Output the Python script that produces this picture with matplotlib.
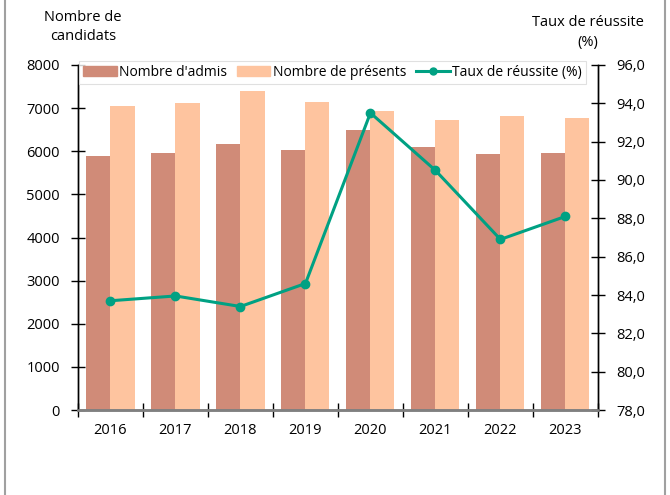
import numpy as np
import matplotlib
matplotlib.use("Agg")
import matplotlib.pyplot as plt
from matplotlib.lines import Line2D
from matplotlib.patches import Patch
from matplotlib.ticker import FuncFormatter

plt.rcParams['font.family'] = ['Open Sans', 'DejaVu Sans']

# Data
years = ["2016", "2017", "2018", "2019", "2020", "2021", "2022", "2023"]
admis = [5890, 5960, 6170, 6030, 6490, 6100, 5940, 5960]
presents = [7050, 7120, 7400, 7140, 6930, 6725, 6820, 6770]
taux = [83.7, 83.95, 83.4, 84.6, 93.5, 90.5, 86.9, 88.1]

col_admis = "#D08B78"
col_presents = "#FEC49F"
col_taux = "#00A183"

fig = plt.figure(figsize=(6.7, 4.95), dpi=100)
ax = fig.add_axes([0.1164, 0.1717, 0.776, 0.697])
ax2 = ax.twinx()

x = np.arange(len(years))
w = 0.37
ax.bar(x - w / 2, admis, width=w, color=col_admis, label="Nombre d'admis")
ax.bar(x + w / 2, presents, width=w, color=col_presents, label="Nombre de présents")
ax2.plot(x, taux, color=col_taux, lw=2.2, marker="o", ms=6, label="Taux de réussite (%)")

ax.set_xlim(-0.5, len(years) - 0.5)
ax.set_ylim(0, 8000)
ax.set_yticks(np.arange(0, 8001, 1000))
ax2.set_ylim(78, 96)
ax2.set_yticks(np.arange(78, 96.1, 2))
ax2.yaxis.set_major_formatter(FuncFormatter(lambda v, p: f"{v:.1f}".replace(".", ",")))

# tick marks at category boundaries, labels at centers
ax.set_xticks(np.arange(-0.5, len(years)), labels=[""] * (len(years) + 1))
ax.set_xticks(x, labels=years, minor=True)
ax.tick_params(axis="x", which="major", direction="inout", length=10, width=1, color="black")
ax.tick_params(axis="x", which="minor", length=0, pad=9, labelsize=10.5)
ax.tick_params(axis="y", direction="inout", length=10, width=1, labelsize=10.5, pad=8)
ax2.tick_params(axis="y", direction="inout", length=10, width=1, labelsize=10.5, pad=8)

for a in (ax, ax2):
    a.spines["top"].set_visible(False)
    a.spines["bottom"].set_color("#808080")
    a.spines["bottom"].set_linewidth(1.8)
    a.spines["left"].set_linewidth(1)
    a.spines["right"].set_linewidth(1)

fig.text(0.124, 0.945, "Nombre de\ncandidats", ha="center", va="center", fontsize=10.5, linespacing=1.35)
fig.text(0.878, 0.934, "Taux de réussite\n(%)", ha="center", va="center", fontsize=10.5, linespacing=1.4)

handles = [
    Patch(color=col_admis, label="Nombre d'admis"),
    Patch(color=col_presents, label="Nombre de présents"),
    Line2D([], [], color=col_taux, lw=2.2, marker="o", ms=5, label="Taux de réussite (%)"),
]
leg = ax2.legend(handles=handles, loc="upper center", bbox_to_anchor=(0.49, 1.012), ncol=3,
                 fontsize=10, frameon=True, fancybox=False, handlelength=2.4, handletextpad=0.2,
                 columnspacing=0.7, borderpad=0.3, borderaxespad=0)
leg.get_frame().set_edgecolor("#D9D9D9")
leg.get_frame().set_linewidth(0.8)

# grey frame lines at left and right of the figure
fig.add_artist(Line2D([0.008, 0.008], [0, 1], transform=fig.transFigure, color="#A0A0A0", lw=1.5))
fig.add_artist(Line2D([0.993, 0.993], [0, 1], transform=fig.transFigure, color="#A0A0A0", lw=1.5))

fig.savefig("out.png", dpi=100)
